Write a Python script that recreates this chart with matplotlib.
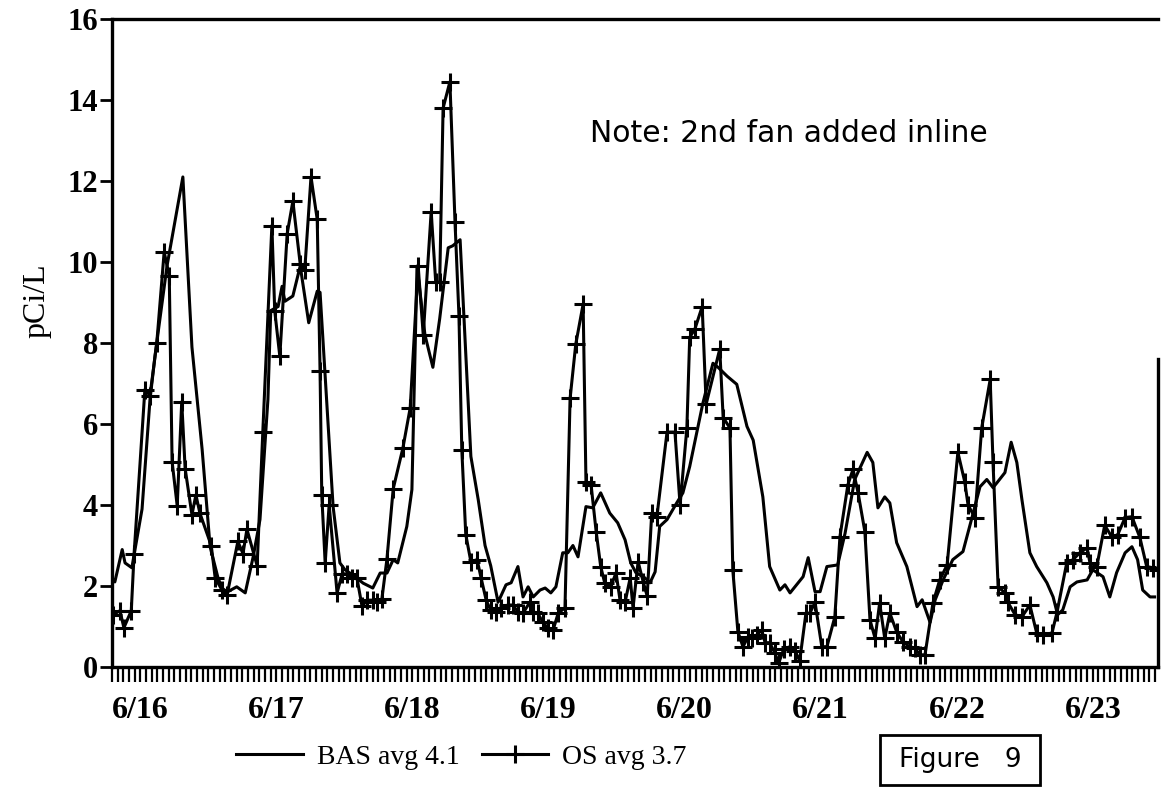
import matplotlib
matplotlib.use("Agg")
import matplotlib.pyplot as plt
from matplotlib.ticker import MultipleLocator
from matplotlib.patches import Rectangle

# ---- data (hours since 6/16 00:00, pCi/L) ----
bas_hours = [0, 0.5, 1.8, 2.3, 3.5, 5.3, 6.7, 7.6, 9.7, 12.5, 14.1, 15.9, 17.3, 18.7, 19.4,
             20.3, 22.0, 23.5, 24.9, 26.1, 27.5, 28.0, 29.3, 30.0, 30.5, 31.9, 33.2, 34.7,
             36.2, 36.7, 38.4, 39.0, 40.2, 41.1, 42.5, 44.3, 46.0, 47.3, 48.5, 49.6, 50.4,
             52.0, 52.9, 53.8, 55.2, 56.6, 57.8, 59.3, 60.1, 61.4, 62.3, 63.3, 64.6, 65.8,
             66.8, 68.1, 69.5, 70.4, 71.6, 72.5, 73.4, 74.3, 75.5, 76.4, 77.4, 78.3, 79.5,
             80.4, 81.3, 82.2, 83.6, 84.8, 86.2, 87.8, 89.2, 90.5, 91.5, 92.4, 94.0, 94.9,
             95.8, 96.6, 97.9, 99.6, 100.7, 101.9, 104.2, 106.0, 106.9, 108.5, 110.2, 112.0,
             113.1, 114.8, 116.0, 117.8, 118.7, 119.6, 121.9, 122.8, 124.0, 124.9, 126.1,
             128.0, 129.3, 131.0, 133.2, 134.2, 135.1, 136.3, 137.2, 138.4, 140.2, 142.0,
             142.9, 144.3, 145.2, 146.6, 148.3, 150.1, 151.9, 153.1, 154.3, 155.4, 156.1,
             157.5, 158.6, 159.6, 160.5, 161.9, 163.1, 164.9, 166.0, 166.8, 167.7, 169.0,
             170.2, 172.0, 173.0, 174.8, 176.0, 177.2, 178.7, 179.9, 180.9, 181.8, 183.1, 183.9]
bas_values = [2.2, 2.1, 2.9, 2.57, 2.45, 3.9, 6.6, 7.7, 9.9, 12.1, 7.9, 5.37, 2.97, 2.2, 1.95,
              1.85, 1.98, 1.83, 2.72, 3.64, 6.6, 8.8, 8.9, 9.4, 9.03, 9.16, 9.9, 8.5,
              9.28, 9.25, 5.37, 3.96, 2.57, 2.4, 2.27, 2.07, 1.95, 2.32, 2.32, 2.65, 2.57,
              3.47, 4.38, 9.9, 8.2, 7.4, 8.6, 10.35, 10.4, 10.55, 8.0, 5.2, 4.13, 3.0,
              2.5, 1.6, 2.03, 2.08, 2.48, 1.73, 1.98, 1.73, 1.9, 1.95, 1.83, 1.98, 2.82,
              2.82, 3.0, 2.72, 3.96, 3.93, 4.3, 3.8, 3.56, 3.14, 2.57, 2.33, 2.2, 2.08,
              2.35, 3.47, 3.64, 4.05, 4.3, 4.95, 6.5, 7.5, 7.4, 7.18, 6.98, 5.94,
              5.6, 4.2, 2.48, 1.9, 2.03, 1.83, 2.23, 2.7, 1.86, 1.86, 2.48,
              2.52, 3.3, 4.63, 5.3, 5.05, 3.93, 4.2, 4.05, 3.07, 2.48, 1.49,
              1.66, 1.1, 1.66, 2.15, 2.65, 2.85, 3.8, 4.45, 4.63, 4.43, 4.55,
              4.8, 5.55, 5.05, 4.13, 2.82, 2.48, 2.08, 1.73, 1.29, 1.41, 1.98,
              2.1, 2.15, 2.4, 2.23, 1.73, 2.33, 2.82, 2.97, 2.65, 1.9, 1.73, 1.73]

os_hours = [0.2, 1.4, 2.1, 3.4, 3.9, 5.8, 6.7, 7.9, 9.2, 10.1, 10.6, 11.5, 12.3, 12.9, 14.1,
            14.8, 15.5, 17.5, 18.2, 19.4, 20.3, 22.2, 23.1, 23.8, 25.6, 26.6, 28.2, 28.7,
            29.6, 30.9, 31.9, 33.2, 34.0, 35.1, 36.2, 36.7, 37.0, 37.6, 38.3, 39.7, 40.6,
            41.4, 42.3, 43.2, 44.1, 45.0, 46.0, 46.7, 47.6, 48.5, 49.6, 51.3, 52.6, 54.0,
            54.9, 56.3, 57.1, 57.8, 58.4, 59.6, 60.5, 61.2, 61.7, 62.4, 63.3, 64.4, 65.1,
            66.0, 66.8, 67.7, 68.6, 69.8, 70.7, 71.6, 72.5, 73.7, 74.3, 75.1, 76.0, 76.9,
            77.8, 78.7, 79.9, 80.8, 81.8, 83.1, 83.6, 84.5, 85.4, 86.2, 86.9, 88.0, 88.9,
            89.6, 90.5, 91.4, 91.9, 92.8, 93.7, 94.4, 95.2, 96.1, 97.9, 99.3, 100.2, 101.4,
            101.9, 102.8, 104.1, 104.8, 107.2, 107.8, 109.0, 109.5, 110.4, 111.3, 112.2,
            112.9, 113.8, 114.6, 115.2, 116.0, 116.9, 117.6, 118.5, 119.6, 120.5, 121.3,
            122.4, 123.1, 124.0, 125.2, 126.1, 127.5, 128.4, 129.8, 130.7, 131.6, 132.8,
            133.7, 134.6, 135.4, 136.3, 137.2, 138.4, 139.5, 140.7, 141.6, 142.5, 143.4,
            144.8, 146.0, 147.3, 149.2, 150.4, 151.0, 152.2, 153.4, 154.9, 155.4, 156.3,
            157.5, 158.0, 159.3, 160.5, 161.9, 163.1, 164.2, 165.8, 166.7, 168.4, 169.5,
            170.7, 172.0, 172.5, 173.7, 175.1, 176.4, 177.4, 178.7, 179.9, 181.3, 182.5,
            183.6, 184.5]
os_values = [1.29, 1.39, 0.97, 1.39, 2.8, 6.85, 6.7, 8.0, 10.25, 9.65, 5.07, 3.98, 6.55, 4.9, 3.76,
             4.25, 3.8, 3.0, 2.2, 1.9, 1.78, 3.1, 2.8, 3.4, 2.5, 5.8, 10.9, 8.8,
             7.67, 10.7, 11.5, 9.95, 9.8, 12.1, 11.05, 7.3, 4.25, 2.57, 4.0, 1.83, 2.3,
             2.3, 2.2, 2.2, 1.5, 1.65, 1.65, 1.6, 1.68, 2.67, 4.4, 5.4, 6.4, 9.9,
             8.2, 11.24, 9.5, 9.5, 13.8, 14.45, 11.0, 8.67, 5.37, 3.27, 2.6, 2.65, 2.2,
             1.65, 1.4, 1.36, 1.46, 1.53, 1.53, 1.36, 1.33, 1.6, 1.36, 1.33, 1.1, 0.96,
             0.91, 1.33, 1.46, 6.63, 7.97, 8.96, 4.58, 4.5, 3.34, 2.48, 2.08, 1.98, 2.33,
             1.66, 1.6, 2.2, 1.46, 2.6, 2.1, 1.75, 3.8, 3.7, 5.8, 5.8, 4.0, 5.9,
             8.14, 8.34, 8.9, 6.49, 7.85, 6.16, 5.9, 2.4, 0.87, 0.5, 0.75,
             0.71, 0.8, 0.91, 0.6, 0.6, 0.35, 0.1, 0.45, 0.5, 0.4, 0.15,
             1.33, 1.33, 1.6, 0.5, 0.5, 1.24, 3.22, 4.5, 4.88, 4.3, 3.34,
             1.16, 0.71, 1.58, 0.71, 1.33, 0.87, 0.62, 0.5, 0.47, 0.3, 0.3,
             1.58, 2.15, 2.52, 5.3, 4.58, 4.0, 3.69, 5.9, 7.1, 5.05, 1.98,
             1.83, 1.6, 1.29, 1.24, 1.53, 0.84, 0.79, 0.84, 1.36, 2.57, 2.65,
             2.82, 2.94, 2.57, 2.48, 3.5, 3.2, 3.27, 3.69, 3.71, 3.2, 2.48,
             2.45, 2.4]

day_labels = ["6/16", "6/17", "6/18", "6/19", "6/20", "6/21", "6/22", "6/23"]
y_ticks = [0, 2, 4, 6, 8, 10, 12, 14, 16]
bas_label = "BAS avg 4.1"
os_label = "OS avg 3.7"
note_text = "Note: 2nd fan added inline"
figure_text = "Figure   9"

# ---- figure ----
W, H = 1162, 794
fig = plt.figure(figsize=(W / 100, H / 100), dpi=100)
fig.patch.set_facecolor("white")
ax = fig.add_axes([112 / W, 1 - 667 / H, 1046 / W, 648 / H])

serif = "Liberation Serif"

bas_line, = ax.plot(bas_hours, bas_values, color="black", lw=2.2, label=bas_label)
os_line, = ax.plot(os_hours, os_values, color="black", lw=2.2, marker="+",
                   markersize=13, markeredgewidth=2.2, label=os_label)

ax.set_xlim(0, 184.5)
ax.set_ylim(0, 16)

# spines
for s in ["left", "bottom", "top", "right"]:
    ax.spines[s].set_linewidth(2.4)
ax.spines["right"].set_bounds(0, 7.6)

# y axis
ax.set_yticks(y_ticks)
ax.set_yticklabels([str(v) for v in y_ticks], fontfamily=serif, fontweight="bold", fontsize=22)
ax.tick_params(axis="y", which="major", direction="out", length=9, width=2, pad=1)

# x axis
day_pos = [24 * i for i in range(len(day_labels))]
ax.set_xticks(day_pos)
ax.set_xticklabels(day_labels, fontfamily=serif, fontweight="bold", fontsize=23, ha="left")
ax.xaxis.set_minor_locator(MultipleLocator(1))
ax.tick_params(axis="x", which="both", direction="out", length=11, width=1.6, pad=10)

ax.set_ylabel("pCi/L", fontfamily=serif, fontsize=23)
ax.yaxis.set_label_coords(-0.058, 0.566)

# note
ax.text(0.457, 0.824, note_text, transform=ax.transAxes, fontfamily="DejaVu Sans",
        fontsize=21.5, ha="left", va="center")

# legend
leg = fig.legend(handles=[bas_line, os_line], loc="center left",
                 bbox_to_anchor=(225 / W, 1 - 757 / H), ncol=2, frameon=False,
                 prop={"family": serif, "size": 20}, handlelength=2.4,
                 handletextpad=0.5, columnspacing=0.8, borderaxespad=0)

# Figure box
fig.add_artist(Rectangle((880 / W, 1 - 785 / H), 160 / W, 50 / H, transform=fig.transFigure,
                         facecolor="white", edgecolor="black", linewidth=2))
fig.text(960 / W, 1 - 760 / H, figure_text, fontfamily="DejaVu Sans", fontsize=19,
         ha="center", va="center")

fig.savefig("out.png", dpi=100, facecolor="white")
